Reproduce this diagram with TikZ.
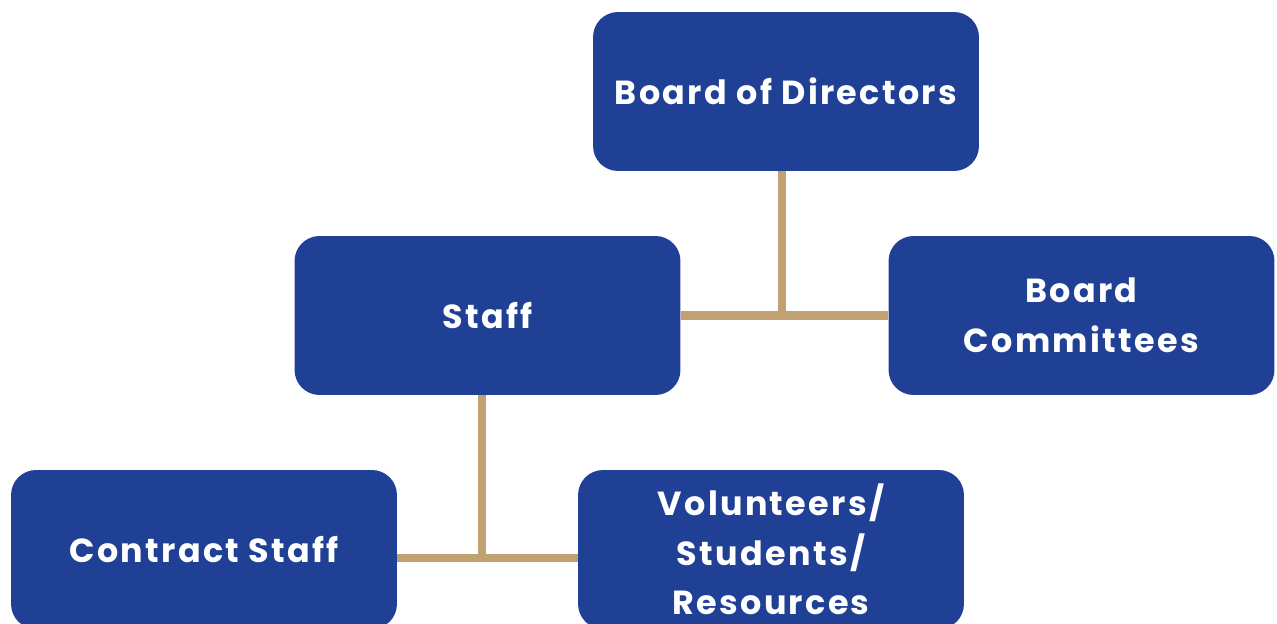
\documentclass[tikz,border=0pt]{standalone}
\usepackage{fontspec}
\setmainfont{Poppins}[LetterSpace=7]
\usetikzlibrary{positioning}
\definecolor{boxblue}{RGB}{31,64,148}
\definecolor{linetan}{RGB}{192,161,114}
\tikzset{
  orgbox/.style={fill=boxblue, rounded corners=0.5cm, minimum width=7.72cm, minimum height=3.18cm,
    text=white, align=center, font=\fontsize{19}{28.3}\selectfont\bfseries, inner sep=0pt},
  link/.style={draw=linetan, line width=5.1pt}
}
\begin{document}
\begin{tikzpicture}[x=0.02cm,y=-0.02cm]
			\useasboundingbox (0,0) rectangle (1277,624);
			% Links
			\coordinate (low) at (482,558);
			\node [orgbox] (bod) at (786,91.5) {Board of Directors};
			\node [orgbox] (staff) at (487.5,315.5) {Staff};
			\node [orgbox] (comm) at (1081.5,315.5) {Board\\Committees};
			\node [orgbox] (contract) at (204,549.5) {Contract Staff};
			\node [orgbox] (vol) at (771,549.5) {Volunteers/\\Students/\\Resources};
			\begin{scope}[on background layer/.try]
			\draw [link] (bod.south) ++(-4,0) -- ++(0,144);
			\draw [link] (staff.east) -- (comm.west);
			\draw [link] (staff.south -| low) -- (low);
			\draw [link] (contract.east |- low) -- (vol.west |- low);
			\end{scope}
			\end{tikzpicture}
\end{document}
